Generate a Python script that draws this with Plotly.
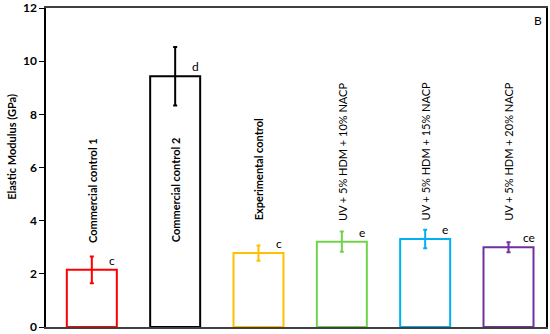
import plotly.graph_objects as go

categories = ["Commercial control 1", "Commercial control 2", "Experimental control",
              "UV + 5% HDM + 10% NACP", "UV + 5% HDM + 15% NACP", "UV + 5% HDM + 20% NACP"]
modulus = [2.15, 9.43, 2.78, 3.21, 3.31, 3.0]
error = [0.5, 1.1, 0.29, 0.38, 0.35, 0.19]
letters = ["c", "d", "c", "e", "e", "ce"]
colors = ["#FF0000", "#000000", "#FFC000", "#70D44B", "#00B0F0", "#7030A0"]
y_title = "Elastic Modulus (GPa)"

x = list(range(len(categories)))

fig = go.Figure()
fig.add_trace(go.Bar(
    x=x, y=modulus,
    marker=dict(color="white", line=dict(color=colors, width=2)),
    width=0.6,
    showlegend=False,
))
for i in x:
    fig.add_trace(go.Scatter(
        x=[i], y=[modulus[i]], mode="markers",
        marker=dict(size=0.1, color=colors[i], opacity=0),
        error_y=dict(type="data", array=[error[i]], color=colors[i], thickness=2, width=2),
        showlegend=False, hoverinfo="skip",
    ))

font_family = "Lato"
label_y = [3.1, 3.1, 3.92, 3.92, 3.92, 3.92]
for i, cat in enumerate(categories):
    bold = not cat.startswith("UV")
    fig.add_annotation(
        x=i, y=label_y[i], text=("<b>%s</b>" % cat) if bold else cat,
        textangle=-90, showarrow=False, xanchor="center", yanchor="bottom",
        font=dict(family=font_family, size=11, color="black"),
    )
    fig.add_annotation(
        x=i + 0.24, y=modulus[i], text=letters[i], showarrow=False,
        xanchor="center", yanchor="bottom", yshift=0,
        font=dict(family=font_family, size=12, color="black"),
    )

fig.add_annotation(
    x=1, y=1, xref="paper", yref="paper", text="B", showarrow=False,
    xanchor="right", yanchor="top", xshift=-2, yshift=-3,
    font=dict(family=font_family, size=12, color="black"),
)

# y-axis title (placed slightly above centre, as in the reference)
fig.add_annotation(
    x=-0.068, y=0.565, xref="paper", yref="paper", text="<b>%s</b>" % y_title,
    textangle=-90, showarrow=False, xanchor="center", yanchor="middle",
    font=dict(family=font_family, size=11, color="black"),
)

fig.update_layout(
    width=550, height=334,
    margin=dict(l=46, r=4, t=8, b=7, autoexpand=False),
    paper_bgcolor="white", plot_bgcolor="white",
    font=dict(family=font_family, color="black"),
    xaxis=dict(range=[-0.55, 5.45], showticklabels=False, ticks="", showgrid=False,
               zeroline=False, showline=True, linecolor="#404040", linewidth=2, mirror=True,
               automargin=False),
    yaxis=dict(range=[0, 12], dtick=2, ticks="outside", ticklen=5, tickcolor="black",
               showgrid=False, zeroline=False, showline=True, linecolor="black",
               linewidth=1.5, mirror=True, ticklabeloverflow="allow", automargin=False,
               tickfont=dict(family=font_family, size=12, color="black", weight="bold")),
)

fig.write_html("out.html", config={"displayModeBar": False},
               post_script="document.body.style.margin='0';document.body.style.overflow='hidden';")
